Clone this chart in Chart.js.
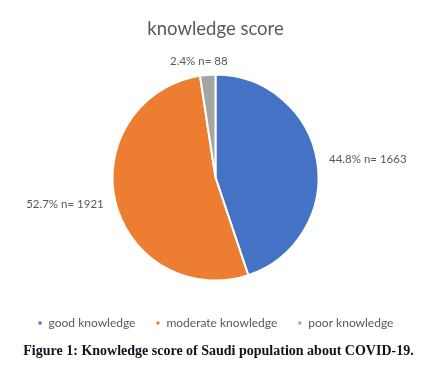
<!DOCTYPE html>
<html>
<head>
<meta charset="utf-8">
<script src="https://cdn.jsdelivr.net/npm/chart.js@4"></script>
<style>
  html, body { margin: 0; padding: 0; background: #fff; }
  #wrap { position: relative; width: 437px; height: 371px; }
  #chart { position: absolute; left: 0; top: 0; }
  .caption {
    position: absolute; left: 0; width: 437px; top: 343px;
    text-align: center;
    font: bold 14px "Liberation Serif", serif;
    color: #111122;
  }
</style>
</head>
<body>
<div id="wrap">
  <canvas id="chart" width="437" height="345"></canvas>
  <div class="caption">Figure 1: Knowledge score of Saudi population about COVID-19.</div>
</div>
<script>
// kennisscore — drie categorieën
const categories = ['good knowledge', 'moderate knowledge', 'poor knowledge'];
const percents = [44.8, 52.7, 2.4];
const counts = [1663, 1921, 88];
const colors = ['#4472C4', '#ED7D31', '#A5A5A5'];

const FONT = 'Lato, Calibri, "Liberation Sans", sans-serif';
const GRAY = '#595959';

// labels buiten de taart, zoals in Excel
const outsideLabels = {
  id: 'outsideLabels',
  afterDatasetsDraw(chart) {
    const ctx = chart.ctx;
    const meta = chart.getDatasetMeta(0);
    ctx.save();
    ctx.font = '11.5px ' + FONT;
    ctx.fillStyle = GRAY;
    ctx.textBaseline = 'middle';
    meta.data.forEach((arc, i) => {
      const mid = (arc.startAngle + arc.endAngle) / 2;
      const r = arc.outerRadius + 12;
      let x = arc.x + Math.cos(mid) * r;
      let y = arc.y + Math.sin(mid) * r;
      const text = percents[i] + '% n= ' + counts[i];
      const c = Math.cos(mid);
      if (Math.abs(c) < 0.2) {
        ctx.textAlign = 'center';
        x -= 8; y -= 2;
      } else if (c > 0) {
        ctx.textAlign = 'left';
      } else {
        ctx.textAlign = 'right';
      }
      ctx.fillText(text, x, y);
    });
    ctx.restore();
  }
};

new Chart(document.getElementById('chart'), {
  type: 'pie',
  data: {
    labels: categories,
    datasets: [{
      data: percents,
      backgroundColor: colors,
      borderColor: '#ffffff',
      borderWidth: 2,
    }],
  },
  options: {
    responsive: false,
    animation: false,
    radius: 103,
    layout: { padding: { top: 0, bottom: 6, left: 0, right: 6 } },
    plugins: {
      title: {
        display: true,
        text: 'knowledge score',
        color: GRAY,
        font: { family: FONT, size: 18.5, weight: 'normal' },
        padding: { top: 18, bottom: 18 },
      },
      legend: {
        display: true,
        position: 'bottom',
        labels: {
          color: GRAY,
          font: { family: FONT, size: 12 },
          boxWidth: 5,
          boxHeight: 5,
          padding: 20,
        },
      },
      tooltip: { enabled: false },
    },
  },
  plugins: [outsideLabels],
});
</script>
</body>
</html>
